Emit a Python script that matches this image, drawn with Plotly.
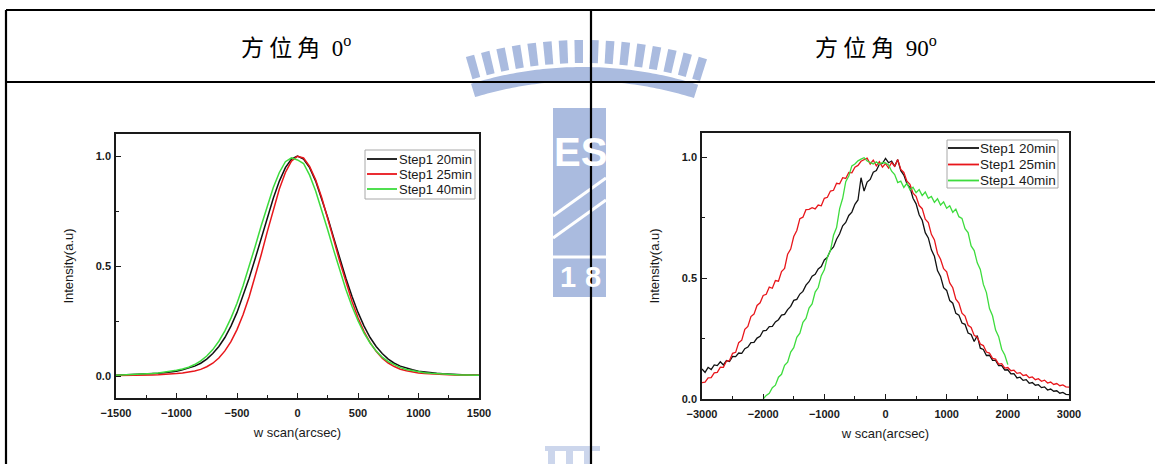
import math
import plotly.graph_objects as go

W, H = 1155, 464

# ---------------------------------------------------------------
# Rocking-curve data (normalised intensity vs. omega scan, arcsec)
# ---------------------------------------------------------------
series_names = ["Step1 20min", "Step1 25min", "Step1 40min"]
series_colors = ["#111111", "#e8161b", "#3ddc3d"]

# azimuth 0 deg : omega from -1500 to 1500 arcsec, step 50
scan_0 = list(range(-1500, 1501, 50))
int_0_20min = [
    0.003, 0.004, 0.005, 0.006, 0.007, 0.008, 0.010, 0.012, 0.015, 0.018,
    0.022, 0.028, 0.035, 0.045, 0.058, 0.077, 0.102, 0.134, 0.175, 0.227,
    0.289, 0.362, 0.444, 0.533, 0.626, 0.720, 0.808, 0.886, 0.947, 0.986,
    1.000,
    0.986, 0.947, 0.886, 0.808, 0.720, 0.626, 0.533, 0.444, 0.362, 0.289,
    0.227, 0.175, 0.134, 0.102, 0.077, 0.058, 0.045, 0.035, 0.028, 0.022,
    0.018, 0.015, 0.012, 0.010, 0.008, 0.007, 0.006, 0.005, 0.004, 0.003,
]
int_0_25min = [
    0.002, 0.002, 0.003, 0.003, 0.004, 0.004, 0.005, 0.006, 0.007, 0.008,
    0.011, 0.014, 0.017, 0.023, 0.030, 0.042, 0.058, 0.082, 0.114, 0.156,
    0.211, 0.278, 0.359, 0.451, 0.551, 0.655, 0.757, 0.850, 0.925, 0.977,
    0.999,
    0.991, 0.953, 0.892, 0.811, 0.718, 0.618, 0.519, 0.425, 0.340, 0.265,
    0.202, 0.152, 0.112, 0.081, 0.059, 0.043, 0.031, 0.024, 0.018, 0.014,
    0.011, 0.009, 0.008, 0.007, 0.006, 0.005, 0.004, 0.004, 0.003, 0.003,
]
int_0_40min = [
    0.003, 0.004, 0.005, 0.006, 0.007, 0.009, 0.011, 0.014, 0.017, 0.021,
    0.026, 0.032, 0.040, 0.052, 0.069, 0.091, 0.120, 0.158, 0.205, 0.263,
    0.331, 0.410, 0.496, 0.589, 0.683, 0.774, 0.857, 0.925, 0.974, 0.992,
    0.982,
    0.966, 0.913, 0.841, 0.756, 0.664, 0.570, 0.479, 0.393, 0.317, 0.251,
    0.195, 0.150, 0.114, 0.086, 0.065, 0.050, 0.038, 0.030, 0.024, 0.019,
    0.015, 0.012, 0.010, 0.008, 0.007, 0.006, 0.005, 0.004, 0.003, 0.003,
]

# azimuth 90 deg : omega from -3000 to 3000 arcsec, step 50 (noisy scans)
scan_90 = list(range(-3000, 3001, 50))
int_90_20min = [
    0.124, 0.110, 0.131, 0.122, 0.141, 0.138, 0.154, 0.141, 0.159, 0.155,
    0.176, 0.175, 0.190, 0.189, 0.208, 0.215, 0.233, 0.234, 0.252, 0.259,
    0.282, 0.284, 0.299, 0.300, 0.319, 0.328, 0.347, 0.350, 0.370, 0.383,
    0.408, 0.412, 0.434, 0.445, 0.471, 0.485, 0.508, 0.516, 0.538, 0.548,
    0.575, 0.586, 0.615, 0.629, 0.661, 0.683, 0.716, 0.730, 0.759, 0.773,
    0.805, 0.823, 0.915, 0.860, 0.897, 0.908, 0.938, 0.945, 0.971, 0.974,
    0.995, 0.977, 0.984, 0.962, 0.990, 0.944, 0.926, 0.890, 0.874, 0.830,
    0.807, 0.762, 0.739, 0.688, 0.666, 0.617, 0.590, 0.531, 0.507, 0.460,
    0.449, 0.407, 0.396, 0.354, 0.347, 0.314, 0.309, 0.273, 0.267, 0.238,
    0.262, 0.210, 0.205, 0.180, 0.181, 0.160, 0.160, 0.138, 0.138, 0.120,
    0.121, 0.104, 0.105, 0.087, 0.090, 0.077, 0.080, 0.065, 0.068, 0.057,
    0.059, 0.047, 0.050, 0.037, 0.041, 0.032, 0.034, 0.024, 0.027, 0.019,
    0.018,
]
int_90_25min = [
    0.068, 0.070, 0.087, 0.088, 0.108, 0.110, 0.132, 0.131, 0.157, 0.159,
    0.189, 0.193, 0.233, 0.243, 0.288, 0.300, 0.341, 0.351, 0.387, 0.398,
    0.428, 0.433, 0.463, 0.458, 0.490, 0.487, 0.527, 0.540, 0.599, 0.620,
    0.672, 0.697, 0.746, 0.752, 0.783, 0.784, 0.791, 0.786, 0.802, 0.799,
    0.830, 0.834, 0.860, 0.863, 0.892, 0.890, 0.915, 0.912, 0.937, 0.935,
    0.959, 0.966, 0.983, 0.988, 0.996, 0.972, 0.988, 0.964, 0.981, 0.959,
    0.974, 0.955, 0.978, 0.962, 0.990, 0.949, 0.937, 0.901, 0.888, 0.851,
    0.838, 0.800, 0.787, 0.744, 0.730, 0.681, 0.658, 0.602, 0.578, 0.539,
    0.526, 0.480, 0.460, 0.413, 0.397, 0.355, 0.343, 0.305, 0.296, 0.263,
    0.256, 0.227, 0.221, 0.194, 0.190, 0.168, 0.165, 0.144, 0.146, 0.128,
    0.130, 0.117, 0.119, 0.106, 0.109, 0.097, 0.100, 0.088, 0.091, 0.080,
    0.084, 0.073, 0.078, 0.066, 0.070, 0.060, 0.064, 0.055, 0.058, 0.050,
    0.049,
]
# the 40 min scan only covers -2000 .. 2000 arcsec
scan_90_40min = list(range(-2000, 2001, 50))
int_90_40min = [
    0.000, 0.015, 0.024, 0.047, 0.057, 0.090, 0.102, 0.139, 0.152, 0.194,
    0.212, 0.255, 0.272, 0.317, 0.333, 0.376, 0.393, 0.442, 0.461, 0.510,
    0.534, 0.587, 0.614, 0.677, 0.709, 0.787, 0.830, 0.899, 0.922, 0.964,
    0.972, 0.985, 0.992, 0.998, 0.984, 0.979, 0.972, 0.981, 0.970, 0.978,
    0.976, 0.968, 0.942, 0.928, 0.895, 0.901, 0.875, 0.892, 0.865, 0.876,
    0.853, 0.866, 0.841, 0.856, 0.830, 0.838, 0.813, 0.828, 0.802, 0.815,
    0.789, 0.799, 0.772, 0.785, 0.754, 0.747, 0.704, 0.688, 0.633, 0.614,
    0.563, 0.536, 0.474, 0.440, 0.374, 0.344, 0.285, 0.258, 0.206, 0.182,
    0.142,
]

panel_titles = ["方 位 角", "方 位 角"]
panel_angles = ["0", "90"]


def fx(p):
    """pixel column -> paper x"""
    return p / W


def fy(p):
    """pixel row -> paper y"""
    return 1 - p / H


fig = go.Figure()

for ys, name, col in zip([int_0_20min, int_0_25min, int_0_40min],
                         series_names, series_colors):
    fig.add_trace(go.Scatter(x=scan_0, y=ys, mode="lines", name=name,
                             line=dict(color=col, width=1.5),
                             xaxis="x", yaxis="y", showlegend=False))

for xs, ys, name, col in zip([scan_90, scan_90, scan_90_40min],
                             [int_90_20min, int_90_25min, int_90_40min],
                             series_names, series_colors):
    fig.add_trace(go.Scatter(x=xs, y=ys, mode="lines", name=name,
                             line=dict(color=col, width=1.3),
                             xaxis="x2", yaxis="y2", showlegend=False))

AXC = "#1a1a1a"
SANS = "Liberation Sans, Arial, sans-serif"
tickfont = dict(family=SANS, size=11, color=AXC, weight="bold")
titlefont = dict(family=SANS, size=13, color=AXC)


def axis(**kw):
    base = dict(showline=True, linecolor=AXC, linewidth=1.6, mirror=True,
                showgrid=False, zeroline=False, ticks="inside", ticklen=5,
                tickwidth=1.3, tickcolor=AXC, tickfont=tickfont,
                automargin=False)
    base.update(kw)
    return base


def minor(step):
    return dict(ticks="inside", dtick=step, ticklen=3, tickwidth=1.1,
                tickcolor=AXC, showgrid=False)


fig.update_layout(
    template="none",
    width=W, height=H, autosize=False,
    margin=dict(l=0, r=0, t=0, b=0, pad=0, autoexpand=False),
    paper_bgcolor="white", plot_bgcolor="rgba(0,0,0,0)",
    xaxis=axis(domain=[fx(116), fx(479)], range=[-1500, 1500], tick0=0,
               dtick=500, minor=minor(250), anchor="y",
               ticklabelstandoff=4,
               title=dict(text="w scan(arcsec)", font=titlefont, standoff=10)),
    yaxis=axis(domain=[fy(398), fy(134)], range=[-0.1, 1.1], tick0=0,
               dtick=0.5, tickformat=".1f", minor=minor(0.25), anchor="x",
               ticklabelstandoff=1,
               title=dict(text="Intensity(a.u)", font=titlefont, standoff=19)),
    xaxis2=axis(domain=[fx(702), fx(1069)], range=[-3000, 3000], tick0=0,
                dtick=1000, minor=minor(500), anchor="y2",
                ticklabelstandoff=4,
                title=dict(text="w scan(arcsec)", font=titlefont, standoff=10)),
    yaxis2=axis(domain=[fy(399), fy(133)], range=[0, 1.1], tick0=0,
                dtick=0.5, tickformat=".1f", minor=minor(0.25), anchor="x2",
                ticklabelstandoff=1,
                title=dict(text="Intensity(a.u)", font=titlefont, standoff=19)),
)

shapes = []
annotations = []

# ---- faint emblem behind the table ----
EMB = "#aabbdf"
cx, cy = 583.0, 450.0


def polar(r, deg):
    a = math.radians(deg)
    return cx + r * math.sin(a), cy - r * math.cos(a)


def poly_path(pts):
    return "M " + " L ".join(f"{fx(x):.5f},{fy(y):.5f}" for x, y in pts) + " Z"


n_bars = 16
for i in range(n_bars):
    th = -16 + i * 33 / (n_bars - 1)
    hw = 0.6
    pts = [polar(387, th - hw), polar(410, th - hw),
           polar(410, th + hw), polar(387, th + hw)]
    shapes.append(dict(type="path", xref="paper", yref="paper",
                       path=poly_path(pts), fillcolor=EMB, line=dict(width=0),
                       layer="below"))
arc_outer = [polar(383, a / 2) for a in range(-34, 36)]
arc_inner = [polar(369, a / 2) for a in range(35, -35, -1)]
shapes.append(dict(type="path", xref="paper", yref="paper",
                   path=poly_path(arc_outer + arc_inner), fillcolor=EMB,
                   line=dict(width=0), layer="below"))
shapes.append(dict(type="rect", xref="paper", yref="paper",
                   x0=fx(553), x1=fx(606), y0=fy(297), y1=fy(108),
                   fillcolor=EMB, line=dict(width=0), layer="below"))
for (xa, ya, xb, yb) in [(553, 216, 606, 178), (553, 238, 606, 200)]:
    shapes.append(dict(type="line", xref="paper", yref="paper",
                       x0=fx(xa), y0=fy(ya), x1=fx(xb), y1=fy(yb),
                       line=dict(color="white", width=3), layer="below"))
shapes.append(dict(type="line", xref="paper", yref="paper",
                   x0=fx(553), x1=fx(606), y0=fy(257), y1=fy(257),
                   line=dict(color="white", width=3), layer="below"))
shapes.append(dict(type="rect", xref="paper", yref="paper",
                   x0=fx(545), x1=fx(600), y0=fy(451), y1=fy(446),
                   fillcolor=EMB, line=dict(width=0), layer="below",
                   opacity=0.6))
for sx in (548, 566, 584):
    shapes.append(dict(type="rect", xref="paper", yref="paper",
                       x0=fx(sx), x1=fx(sx + 7), y0=fy(464), y1=fy(451),
                       fillcolor=EMB, line=dict(width=0), layer="below",
                       opacity=0.6))
annotations.append(dict(text="<b>ES</b>", x=fx(580), y=fy(152), xref="paper",
                        yref="paper", showarrow=False, xanchor="center",
                        yanchor="middle",
                        font=dict(family=SANS, size=40, color="white")))
for ch, xc in (("1", 568), ("8", 593)):
    annotations.append(dict(text=f"<b>{ch}</b>", x=fx(xc), y=fy(277),
                            xref="paper", yref="paper", showarrow=False,
                            xanchor="center", yanchor="middle",
                            font=dict(family=SANS, size=29, color="white")))

# ---- table frame ----
TBL = dict(color="black", width=2.2)
for (xa, ya, xb, yb) in [(6, 10, W, 10), (6, 82, W, 82),
                         (6, 10, 6, H), (591, 10, 591, H)]:
    shapes.append(dict(type="line", xref="paper", yref="paper",
                       x0=fx(xa), y0=fy(ya), x1=fx(xb), y1=fy(yb),
                       line=TBL, layer="above"))

# ---- header cells ----
for title, ang, xc in zip(panel_titles, panel_angles, (296, 876)):
    annotations.append(dict(
        text=(f"{title}\u2002<span style='font-family:Liberation Serif'>"
              f"{ang}<sup>o</sup></span>"),
        x=fx(xc), y=fy(46), xref="paper", yref="paper", showarrow=False,
        xanchor="center", yanchor="middle",
        font=dict(family="Noto Sans CJK TC", size=23, color="black")))


# ---- legends drawn inside each plot frame ----
def legend(box, line_x, text_x, rows, size):
    x0, y0, x1, y1 = box
    shapes.append(dict(type="rect", xref="paper", yref="paper",
                       x0=fx(x0), x1=fx(x1), y0=fy(y1), y1=fy(y0),
                       line=dict(color="#a8a8a8", width=1),
                       fillcolor="white", layer="above"))
    for name, col, ry in zip(series_names, series_colors, rows):
        shapes.append(dict(type="line", xref="paper", yref="paper",
                           x0=fx(line_x[0]), x1=fx(line_x[1]),
                           y0=fy(ry), y1=fy(ry),
                           line=dict(color=col, width=1.8), layer="above"))
        annotations.append(dict(text=name, x=fx(text_x), y=fy(ry),
                                xref="paper", yref="paper", showarrow=False,
                                xanchor="left", yanchor="middle",
                                font=dict(family=SANS, size=size, color=AXC)))


legend((365, 150, 475, 199), (367, 397), 397, (159, 174, 189), 13)
legend((947, 140, 1058, 188), (948, 979), 978, (148, 164.5, 180.5), 13.5)

fig.update_layout(shapes=shapes, annotations=annotations)
fig.write_html("out.html")
